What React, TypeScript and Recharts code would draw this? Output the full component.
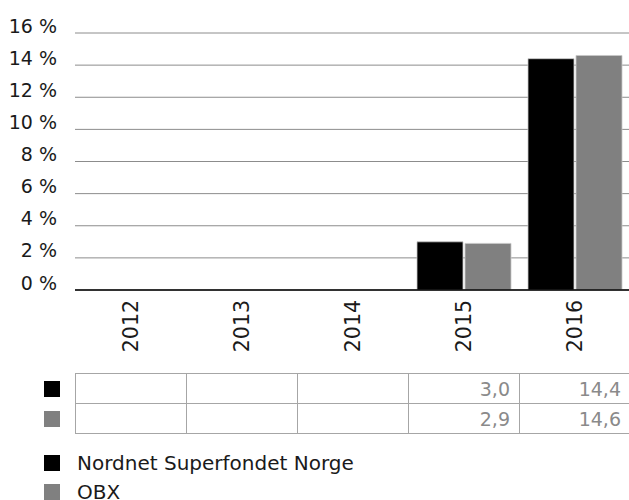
import React from 'react';
import { BarChart, Bar, XAxis, YAxis, CartesianGrid } from 'recharts';

const categories = ['2012', '2013', '2014', '2015', '2016'];
const nordnetValues: (number | null)[] = [null, null, null, 3.0, 14.4];
const obxValues: (number | null)[] = [null, null, null, 2.9, 14.6];
const yTicks = [0, 2, 4, 6, 8, 10, 12, 14, 16];
const seriesNames = ['Nordnet Superfondet Norge', 'OBX'];
const seriesColors = ['#000000', '#808080'];

const data = categories.map((c, i) => ({
  year: c,
  nordnet: nordnetValues[i],
  obx: obxValues[i],
}));

const FONT = '"DejaVu Sans", sans-serif';

const YTick = (props: any) => {
  const { y, payload } = props;
  return (
    <text x={57} y={y - 0.5} textAnchor="end" fontFamily={FONT} fontSize={19} fill="#1a1a1a">
      {`${payload.value} %`}
    </text>
  );
};

const XTick = (props: any) => {
  const { x, y, payload } = props;
  const ty = y + 2;
  return (
    <text
      x={x}
      y={ty}
      dy="0.36em"
      transform={`rotate(-90, ${x}, ${ty})`}
      textAnchor="end"
      fontFamily={FONT}
      fontSize={20.5}
      fill="#1a1a1a"
    >
      {payload.value}
    </text>
  );
};

const fmt = (v: number | null) => (v == null ? '' : v.toFixed(1).replace('.', ','));

export default function App() {
  const rows = [nordnetValues, obxValues];
  return (
    <div
      style={{
        position: 'absolute',
        left: 0,
        top: 0,
        width: 629,
        height: 500,
        overflow: 'hidden',
        background: '#fff',
        fontFamily: FONT,
      }}
    >
      <BarChart
        width={630}
        height={372}
        data={data}
        margin={{ top: 33, right: 0, left: 0, bottom: 0 }}
        barSize={46}
        barGap={2}
      >
        <CartesianGrid vertical={false} stroke="#8c8c8c" strokeWidth={1} />
        <YAxis
          width={75}
          domain={[0, 16]}
          ticks={yTicks}
          axisLine={false}
          tickLine={false}
          tick={<YTick />}
          interval={0}
        />
        <XAxis
          dataKey="year"
          height={82}
          axisLine={{ stroke: '#000', strokeWidth: 1.5 }}
          tickLine={false}
          tick={<XTick />}
          interval={0}
        />
        <Bar dataKey="nordnet" fill={seriesColors[0]} stroke="#c8c8c8" strokeWidth={0.8} isAnimationActive={false} />
        <Bar dataKey="obx" fill={seriesColors[1]} stroke="#c8c8c8" strokeWidth={0.8} isAnimationActive={false} />
      </BarChart>

      {/* data table */}
      <table
        style={{
          position: 'absolute',
          left: 75,
          top: 373,
          borderCollapse: 'collapse',
          tableLayout: 'fixed',
          width: 555,
        }}
      >
        <tbody>
          {rows.map((row, ri) => (
            <tr key={ri} style={{ height: 30 }}>
              {row.map((v, ci) => (
                <td
                  key={ci}
                  style={{
                    width: 111,
                    border: '1.5px solid #a6a6a6',
                    padding: '0 9px 0 0',
                    textAlign: 'right',
                    fontSize: 19,
                    color: '#8a8a8a',
                    fontFamily: FONT,
                    lineHeight: '28px',
                    height: 30,
                    boxSizing: 'border-box',
                  }}
                >
                  {fmt(v)}
                </td>
              ))}
            </tr>
          ))}
        </tbody>
      </table>
      {seriesColors.map((c, i) => (
        <div
          key={'tk' + i}
          style={{ position: 'absolute', left: 44, top: 381 + i * 30, width: 16, height: 16, background: c }}
        />
      ))}

      {/* legend */}
      {seriesNames.map((n, i) => (
        <div
          key={'lg' + i}
          style={{ position: 'absolute', left: 44, top: 454 + i * 29, height: 18, display: 'flex', alignItems: 'center' }}
        >
          <div style={{ width: 16, height: 16, background: seriesColors[i], marginRight: 17 }} />
          <span style={{ fontSize: 20, color: '#1a1a1a', fontFamily: FONT, lineHeight: '16px' }}>{n}</span>
        </div>
      ))}
    </div>
  );
}
